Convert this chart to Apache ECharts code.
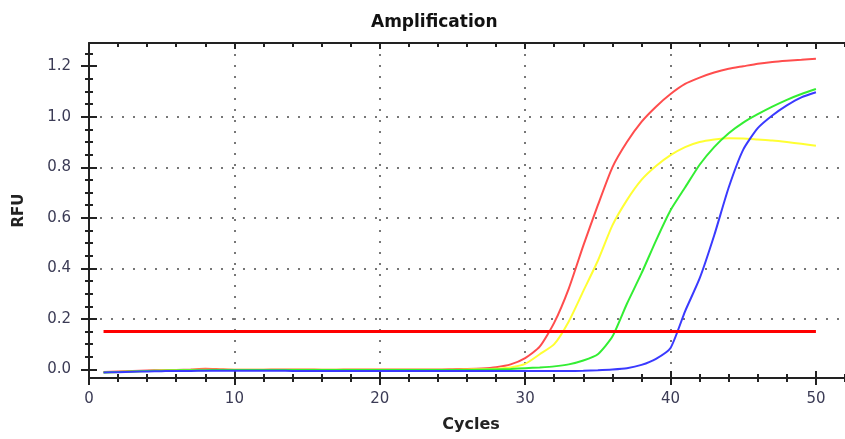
<!DOCTYPE html>
<html>
<head>
<meta charset="utf-8">
<title>Amplification</title>
<script src="https://cdn.jsdelivr.net/npm/echarts@6/dist/echarts.min.js"></script>
<style>
  html, body { margin: 0; padding: 0; background: #fff; }
  #chart { width: 845px; height: 439px; }
</style>
</head>
<body>
<div id="chart"></div>
<script>
// cycle numbers (x)
var cycles = [1, 2, 3, 4, 5, 6, 7, 8, 9, 10, 11, 12, 13, 14, 15, 16, 17, 18, 19, 20,
  21, 22, 23, 24, 25, 26, 27, 28, 29, 30, 31, 32, 33, 34, 35, 36, 37, 38, 39, 40,
  41, 42, 43, 44, 45, 46, 47, 48, 49, 50];

// RFU per cycle
var redRFU = [-0.010, -0.008, -0.006, -0.004, -0.003, -0.002, 0.000, 0.003, 0.001, -0.001,
  -0.001, -0.001, 0.000, 0.000, 0.000, -0.001, -0.001, 0.000, 0.000, 0.000,
  0.000, 0.000, 0.000, 0.000, 0.001, 0.002, 0.004, 0.009, 0.020, 0.045,
  0.090, 0.185, 0.320, 0.490, 0.650, 0.800, 0.900, 0.980, 1.040, 1.090,
  1.130, 1.155, 1.175, 1.190, 1.200, 1.210, 1.217, 1.222, 1.226, 1.230];
var yellowRFU = [-0.012, -0.010, -0.008, -0.006, -0.004, -0.003, -0.002, -0.001, -0.001, -0.001,
  -0.001, -0.001, -0.001, -0.001, -0.001, -0.001, -0.001, -0.001, -0.001, -0.001,
  -0.001, -0.001, -0.001, -0.001, -0.001, 0.000, 0.001, 0.003, 0.008, 0.022,
  0.060, 0.100, 0.190, 0.310, 0.430, 0.570, 0.670, 0.750, 0.805, 0.848,
  0.880, 0.900, 0.910, 0.915, 0.914, 0.910, 0.906, 0.900, 0.893, 0.885];
var greenRFU = [-0.012, -0.010, -0.008, -0.006, -0.005, -0.004, -0.003, -0.003, -0.002, -0.002,
  -0.002, -0.002, -0.002, -0.002, -0.002, -0.002, -0.002, -0.002, -0.002, -0.002,
  -0.002, -0.002, -0.002, -0.002, -0.002, -0.002, -0.001, 0.000, 0.002, 0.005,
  0.008, 0.012, 0.020, 0.035, 0.060, 0.130, 0.260, 0.380, 0.510, 0.630,
  0.720, 0.810, 0.880, 0.935, 0.977, 1.010, 1.040, 1.067, 1.090, 1.110];
var blueRFU = [-0.012, -0.011, -0.009, -0.008, -0.007, -0.006, -0.006, -0.005, -0.005, -0.005,
  -0.005, -0.005, -0.005, -0.006, -0.006, -0.006, -0.006, -0.006, -0.006, -0.006,
  -0.006, -0.006, -0.006, -0.006, -0.006, -0.006, -0.006, -0.006, -0.006, -0.006,
  -0.006, -0.006, -0.006, -0.005, -0.003, 0.000, 0.005, 0.018, 0.042, 0.085,
  0.230, 0.360, 0.530, 0.720, 0.870, 0.955, 1.005, 1.045, 1.077, 1.097];

// threshold line
var thresholdCycles = [1, 50];
var thresholdRFU = 0.15;

// tick positions and labels
var xMajorTicks = [0, 10, 20, 30, 40, 50];
var xMinorTicks = [0, 2, 4, 6, 8, 10, 12, 14, 16, 18, 20, 22, 24, 26, 28, 30, 32, 34, 36, 38,
  40, 42, 44, 46, 48, 50, 52];
var yMajorTicks = [0, 0.2, 0.4, 0.6, 0.8, 1.0, 1.2];
var yMinorTicks = [0, 0.05, 0.1, 0.15, 0.2, 0.25, 0.3, 0.35, 0.4, 0.45, 0.5, 0.55, 0.6, 0.65,
  0.7, 0.75, 0.8, 0.85, 0.9, 0.95, 1.0, 1.05, 1.1, 1.15, 1.2, 1.25];

var X_MIN = 0, X_MAX = 52;
var Y_MIN = -0.034, Y_MAX = 1.292;
var AXIS_COLOR = "#222";
var LABEL_COLOR = "#3b3b55";
var FONT = "DejaVu Sans";

function pairs(ys) {
  return cycles.map(function(c, i) { return [c, ys[i]]; });
}

// extra axes that only draw tick marks (ticks cross the axis line in the original)
function tickAxis(pos, min, max, values, len, inside) {
  return {
    type: "value",
    position: pos,
    min: min,
    max: max,
    axisLine: { show: false, onZero: false },
    axisTick: {
      show: true,
      inside: inside,
      length: len,
      customValues: values,
      lineStyle: { color: AXIS_COLOR, width: 2 }
    },
    axisLabel: { show: false },
    splitLine: { show: false }
  };
}

var dotted = {
  show: true,
  showMinLine: false,
  showMaxLine: false,
  lineStyle: { color: "#777", width: 2, type: [2, 9] }
};

function curve(name, ys, color) {
  return {
    name: name, type: "line", data: pairs(ys), showSymbol: false, smooth: 0.2,
    lineStyle: { color: color, width: 2 }, z: 3
  };
}

var chart = echarts.init(document.getElementById("chart"));

var option = {
  animation: false,
  backgroundColor: "#fff",
  title: {
    text: "Amplification",
    left: 366,
    top: 9,
    textStyle: { fontFamily: FONT, fontSize: 17, fontWeight: "bold", color: "#111" }
  },
  grid: { left: 89, right: 0, top: 43, bottom: 61, containLabel: false },
  xAxis: [
    {
      type: "value",
      position: "bottom",
      min: X_MIN,
      max: X_MAX,
      interval: 10,
      name: "Cycles",
      nameLocation: "middle",
      nameGap: 39,
      nameTextStyle: {
        fontFamily: FONT, fontSize: 16, fontWeight: "bold", color: "#222",
        padding: [0, 0, 0, 8]
      },
      axisLine: { show: true, onZero: false, lineStyle: { color: AXIS_COLOR, width: 2 } },
      axisTick: {
        show: true, inside: false, length: 7, customValues: xMajorTicks,
        lineStyle: { color: AXIS_COLOR, width: 2 }
      },
      axisLabel: {
        customValues: xMajorTicks,
        margin: 14,
        fontFamily: FONT,
        fontSize: 15,
        color: LABEL_COLOR
      },
      splitLine: dotted
    },
    tickAxis("bottom", X_MIN, X_MAX, xMajorTicks, 7, true),
    tickAxis("bottom", X_MIN, X_MAX, xMinorTicks, 4, false),
    tickAxis("bottom", X_MIN, X_MAX, xMinorTicks, 4, true),
    {
      type: "value",
      position: "top",
      min: X_MIN,
      max: X_MAX,
      axisLine: { show: true, onZero: false, lineStyle: { color: AXIS_COLOR, width: 2 } },
      axisTick: {
        show: true, inside: true, length: 4, customValues: xMinorTicks,
        lineStyle: { color: AXIS_COLOR, width: 2 }
      },
      axisLabel: { show: false },
      splitLine: { show: false }
    },
    tickAxis("top", X_MIN, X_MAX, xMajorTicks, 6, true)
  ],
  yAxis: [
    {
      type: "value",
      position: "left",
      min: Y_MIN,
      max: Y_MAX,
      splitNumber: 6,
      name: "RFU",
      nameLocation: "middle",
      nameGap: 62,
      nameTextStyle: { fontFamily: FONT, fontSize: 15, fontWeight: "bold", color: "#222" },
      axisLine: { show: true, onZero: false, lineStyle: { color: AXIS_COLOR, width: 2 } },
      axisTick: {
        show: true, inside: false, length: 8, customValues: yMajorTicks,
        lineStyle: { color: AXIS_COLOR, width: 2 }
      },
      axisLabel: {
        customValues: yMajorTicks,
        margin: 18,
        fontFamily: FONT,
        fontSize: 15,
        color: LABEL_COLOR,
        formatter: function(v) { return v.toFixed(1); }
      },
      splitLine: dotted
    },
    tickAxis("left", Y_MIN, Y_MAX, yMajorTicks, 8, true),
    tickAxis("left", Y_MIN, Y_MAX, yMinorTicks, 4, false),
    tickAxis("left", Y_MIN, Y_MAX, yMinorTicks, 4, true)
  ],
  series: [
    curve("red", redRFU, "#ff4d4d"),
    curve("yellow", yellowRFU, "#ffff33"),
    curve("green", greenRFU, "#33ee33"),
    curve("blue", blueRFU, "#3a3aff"),
    {
      name: "threshold", type: "line",
      data: thresholdCycles.map(function(c) { return [c, thresholdRFU]; }),
      showSymbol: false,
      lineStyle: { color: "#ff0000", width: 3 }, z: 4
    }
  ]
};

chart.setOption(option);
</script>
</body>
</html>
